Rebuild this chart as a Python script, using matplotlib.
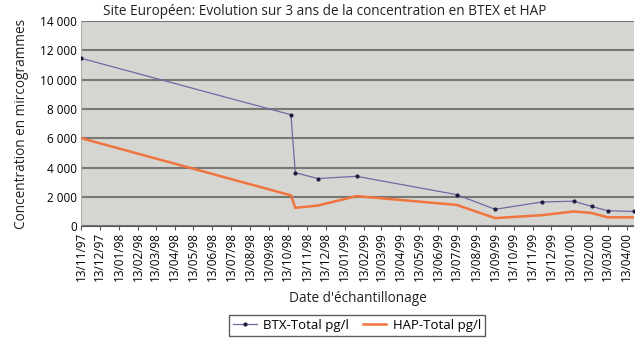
import matplotlib
matplotlib.use("Agg")
import matplotlib.pyplot as plt
import matplotlib.dates as mdates
import matplotlib.ticker as mticker
import pandas as pd

# sampling dates and concentrations
dates = ["1997-11-13", "1998-10-18", "1998-10-25", "1998-11-30", "1999-02-01",
         "1999-07-13", "1999-09-13", "1999-11-28", "2000-01-18", "2000-02-16",
         "2000-03-13", "2000-04-25"]
btx = [11450, 7600, 3650, 3250, 3400, 2150, 1150, 1650, 1700, 1350, 1050, 1000]
hap = [6000, 2100, 1250, 1400, 2050, 1450, 550, 750, 1000, 900, 600, 600]

tick_dates = pd.date_range("1997-11-01", "2000-04-01", freq="MS") + pd.Timedelta(days=12)

plt.rcParams['font.family'] = ['Open Sans', 'DejaVu Sans']

x = pd.to_datetime(dates)

fig = plt.figure(figsize=(6.4, 3.49), dpi=100)
ax = fig.add_axes([0.127, 0.352, 0.864, 0.588])
ax.set_facecolor('#d5d5d1')

ax.plot(x, btx, color='#6b6ba6', lw=0.9, marker='o', ms=2,
        mfc='#1c1c3c', mec='#1c1c3c', label='BTX-Total pg/l', zorder=4)
ax.plot(x, hap, color='#f0743e', lw=1.8, label='HAP-Total pg/l', zorder=3)

ax.set_xlim(x[0], x[-1])
ax.set_ylim(0, 14000)
ax.set_yticks(range(0, 14001, 2000))
ax.yaxis.set_major_formatter(mticker.FuncFormatter(lambda v, p: f"{int(v):,}".replace(",", " ")))
ax.grid(axis='y', color='#777774', lw=1.5)
ax.set_axisbelow(True)

ax.set_xticks(tick_dates)
ax.xaxis.set_major_formatter(mdates.DateFormatter('%d/%m/%y'))
ax.tick_params(axis='x', rotation=90, labelsize=8.5, length=3, color='#555555', pad=1)
ax.tick_params(axis='y', labelsize=8.5, length=0, pad=3)

for s in ['top', 'right']:
    ax.spines[s].set_visible(False)
ax.spines['left'].set_color('#b0b0b0')
ax.spines['bottom'].set_color('#555555')
ax.spines['bottom'].set_linestyle((0, (1, 1)))

ax.set_title("Site Européen: Evolution sur 3 ans de la concentration en BTEX et HAP",
             fontsize=9.8, color='#222222', pad=4, x=0.44)
ax.set_ylabel("Concentration en mircogrammes", fontsize=9.8, color='#222222', labelpad=8)
ax.set_xlabel("Date d'échantillonage", fontsize=9.8, color='#222222', labelpad=7)

fig.legend(loc='center', bbox_to_anchor=(0.558, 0.068), ncol=2, fontsize=9.5,
           frameon=True, fancybox=False, edgecolor='#333333', handlelength=1.8,
           borderpad=0.3, columnspacing=1.0, handletextpad=0.5)

fig.savefig("out.png", dpi=100)
